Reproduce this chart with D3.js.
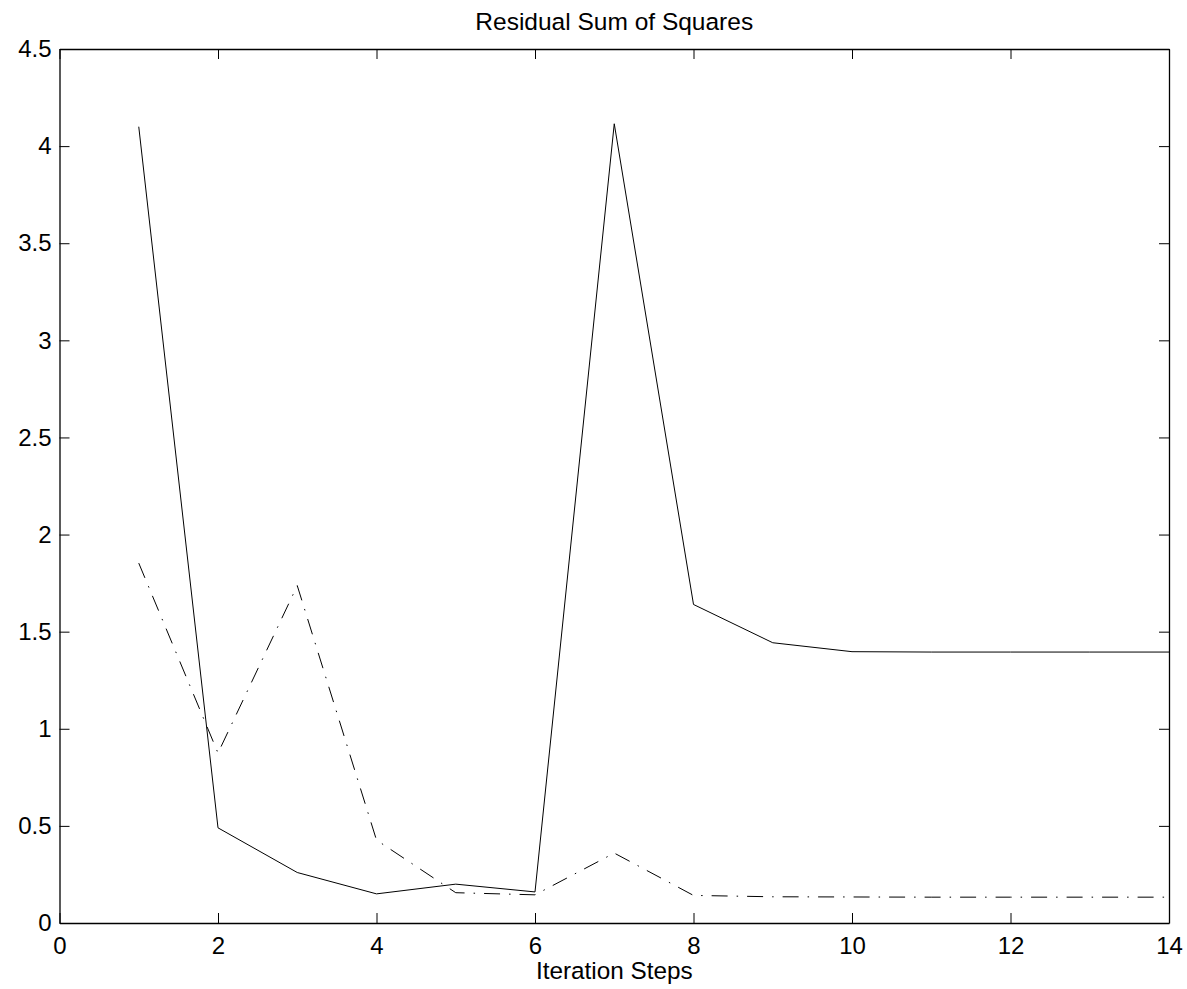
<!DOCTYPE html>
<meta charset="utf-8">
<head>
    <title>Residual Sum of Squares</title>
    <script src="https://d3js.org/d3.v7.min.js"></script>
    <style>
        body { margin: 0; background: #fff; }
        text { font-family: "Liberation Sans", Arial, sans-serif; fill: #000; }
        .tick text { font-size: 24px; }
    </style>
</head>
<body>
    <svg width="1187" height="989"></svg>
    <script>

        var steps = [1, 2, 3, 4, 5, 6, 7, 8, 9, 10, 11, 12, 13, 14];
        var rssSolid = [4.10, 0.49, 0.26, 0.15, 0.20, 0.16, 4.115, 1.64, 1.443, 1.397, 1.395, 1.395, 1.395, 1.395];
        var rssDashDot = [1.853, 0.875, 1.737, 0.427, 0.156, 0.145, 0.36, 0.142, 0.135, 0.134, 0.133, 0.133, 0.133, 0.133];
        var xTicks = [0, 2, 4, 6, 8, 10, 12, 14];
        var yTicks = [0, 0.5, 1, 1.5, 2, 2.5, 3, 3.5, 4, 4.5];

        var svg = d3.select("svg"),
            margin = { top: 49, right: 18, bottom: 66, left: 59.5 },
            width = 1187 - margin.left - margin.right,
            height = 989 - margin.top - margin.bottom,
            g = svg.append("g").attr("transform", "translate(" + margin.left + "," + margin.top + ")");

        var x = d3.scaleLinear().domain([0, 14]).range([0, width]);
        var y = d3.scaleLinear().domain([0, 4.5]).range([height, 0]);

        // box with inward ticks on all four sides
        g.append("g")
            .attr("transform", "translate(0," + height + ")")
            .call(d3.axisBottom(x).tickValues(xTicks).tickSizeInner(-10).tickSizeOuter(0).tickPadding(14));
        g.append("g")
            .call(d3.axisTop(x).tickValues(xTicks).tickSizeInner(-10).tickSizeOuter(0).tickFormat(""));
        g.append("g")
            .call(d3.axisLeft(y).tickValues(yTicks).tickSizeInner(-10).tickSizeOuter(0).tickPadding(8).tickFormat(d3.format("")));
        g.append("g")
            .attr("transform", "translate(" + width + ",0)")
            .call(d3.axisRight(y).tickValues(yTicks).tickSizeInner(-10).tickSizeOuter(0).tickFormat(""));

        g.selectAll(".domain").attr("stroke", "#000").attr("stroke-width", 1.3);
        g.selectAll(".tick line").attr("stroke", "#000").attr("stroke-width", 1);

        var line = d3.line()
            .x(function (d) { return x(d[0]); })
            .y(function (d) { return y(d[1]); });

        g.append("path")
            .datum(d3.zip(steps, rssSolid))
            .attr("fill", "none")
            .attr("stroke", "#000")
            .attr("stroke-width", 1)
            .attr("d", line);

        g.append("path")
            .datum(d3.zip(steps, rssDashDot))
            .attr("fill", "none")
            .attr("stroke", "#000")
            .attr("stroke-width", 1)
            .attr("stroke-dasharray", "16,9,1.5,9")
            .attr("d", line);

        svg.append("text")
            .attr("x", margin.left + width / 2)
            .attr("y", 29.5)
            .attr("text-anchor", "middle")
            .style("font-size", "24.5px")
            .text("Residual Sum of Squares");

        svg.append("text")
            .attr("x", margin.left + width / 2)
            .attr("y", 979)
            .attr("text-anchor", "middle")
            .style("font-size", "24.3px")
            .text("Iteration Steps");

    </script>
</body>
</html>
